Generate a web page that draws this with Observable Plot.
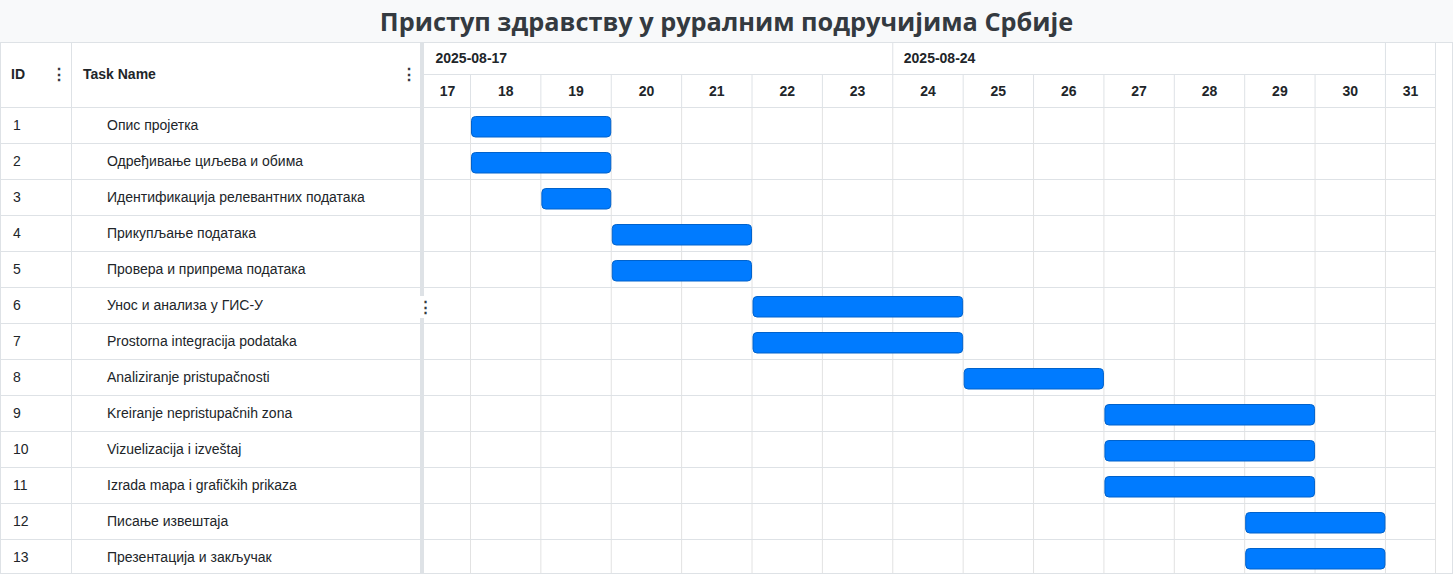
<!DOCTYPE html>
<html>
<head>
<meta charset="utf-8">
<script src="https://cdn.jsdelivr.net/npm/d3@7"></script>
<script src="https://cdn.jsdelivr.net/npm/@observablehq/plot@0.6"></script>
<style>
  html, body { margin: 0; padding: 0; background: #fff; }
  body { width: 1453px; font-family: "Liberation Sans", Arial, sans-serif; color: #212529; }
  #title { height: 42px; background: #f8f9fa; text-align: center; font-family: "Open Sans", sans-serif;
           font-weight: 700; font-size: 25.3px; line-height: 42px; color: #343a40; white-space: nowrap; }
  #wrap { position: relative; width: 1451px; height: 530px; border: 1px solid #dee2e6; display: flex; overflow: hidden; }
  #left { width: 419px; flex: none; }
  .hdr { height: 64px; border-bottom: 1px solid #dee2e6; display: flex; font-weight: 700; font-size: 14px; }
  .row { height: 35px; border-bottom: 1px solid #dee2e6; display: flex; font-size: 14px; }
  .c1 { width: 70px; flex: none; border-right: 1px solid #dee2e6; display: flex; align-items: center; position: relative; box-sizing: content-box; }
  .c2 { flex: 1; display: flex; align-items: center; position: relative; }
  .hdr .c1 { padding-left: 10px; width: 60px; padding-bottom: 2px; }
  .hdr .c2 { padding-left: 11px; padding-bottom: 2px; }
  .row .c1 { padding-left: 12px; width: 58px; padding-bottom: 2px; }
  .row .c2 { padding-left: 35px; padding-bottom: 2px; }
  .dots { position: absolute; font-weight: 700; font-size: 16px; color: #343a40; }
  .hdr .c1 .dots { left: 50px; }
  .hdr .c2 .dots { left: 329px; }
  #sep { width: 4px; flex: none; background: #dee2e6; position: relative; }
  #sepdots { position: absolute; left: -2px; top: 253px; width: 8px; height: 22px; background: #fff;
             font-weight: 700; font-size: 15px; line-height: 22px; text-align: center; color: #343a40; }
  #right { width: 1028px; flex: none; }
  #right svg { display: block; }
</style>
</head>
<body>
<div id="title">Приступ здравству у руралним подручијима Србије</div>
<div id="wrap">
  <div id="left"></div>
  <div id="sep"><div id="sepdots">⋮</div></div>
  <div id="right"></div>
</div>
<script>
// ---- data ----
const ids = [1, 2, 3, 4, 5, 6, 7, 8, 9, 10, 11, 12, 13];
const taskNames = [
  "Опис пројетка",
  "Одређивање циљева и обима",
  "Идентификација релевантних података",
  "Прикупљање података",
  "Провера и припрема података",
  "Унос и анализа у ГИС-У",
  "Prostorna integracija podataka",
  "Analiziranje pristupačnosti",
  "Kreiranje nepristupačnih zona",
  "Vizuelizacija i izveštaj",
  "Izrada mapa i grafičkih prikaza",
  "Писање извештаја",
  "Презентација и закључак"
];
const startDates = ["2025-08-18", "2025-08-18", "2025-08-19", "2025-08-20", "2025-08-20", "2025-08-22", "2025-08-22",
                    "2025-08-25", "2025-08-27", "2025-08-27", "2025-08-27", "2025-08-29", "2025-08-29"];
const endDates = ["2025-08-20", "2025-08-20", "2025-08-20", "2025-08-22", "2025-08-22", "2025-08-25", "2025-08-25",
                  "2025-08-27", "2025-08-30", "2025-08-30", "2025-08-30", "2025-08-31", "2025-08-31"];
const weekStarts = ["2025-08-17", "2025-08-24", "2025-08-31"];
const weekLabels = ["2025-08-17", "2025-08-24", ""];
const dayDates = ["2025-08-17", "2025-08-18", "2025-08-19", "2025-08-20", "2025-08-21", "2025-08-22", "2025-08-23",
                  "2025-08-24", "2025-08-25", "2025-08-26", "2025-08-27", "2025-08-28", "2025-08-29", "2025-08-30", "2025-08-31"];
const dayLabels = ["17", "18", "19", "20", "21", "22", "23", "24", "25", "26", "27", "28", "29", "30", "31"];
// visible window of the timeline (scrolled view)
const viewStart = "2025-08-17T08:19:00Z";
const viewEnd = "2025-08-31T17:04:00Z";

// ---- helpers ----
const D = (s) => new Date(s.length === 10 ? s + "T00:00:00Z" : s);
const DAY = 864e5;
const vS = D(viewStart), vE = D(viewEnd);
const clampT = (t) => new Date(Math.max(vS, Math.min(vE, t)));

const tasks = ids.map((id, i) => ({id, name: taskNames[i], row: i, start: D(startDates[i]), end: D(endDates[i])}));
const days = dayDates.map((d, i) => {
  const s = D(d), e = new Date(+s + DAY);
  const a = clampT(s), b = clampT(e);
  return {label: dayLabels[i], mid: new Date((+a + +b) / 2)};
});
const dayBounds = dayDates.slice(1).map(D).concat([vE]);
const weeks = weekStarts.map((w, i) => ({label: weekLabels[i], x: clampT(D(w))}));
const weekBounds = weekStarts.slice(1).map(D).concat([vE]);

const W = 1028, MR = 17;
const grid = "#dee2e6";
const xScale = {type: "utc", domain: [vS, vE], axis: null};
const style = {fontFamily: "Liberation Sans, Arial, sans-serif", fontSize: "14px", color: "#212529", background: "transparent"};

// ---- left table ----
const left = document.getElementById("left");
left.innerHTML = `<div class="hdr"><div class="c1">ID<span class="dots">⋮</span></div><div class="c2">Task Name<span class="dots">⋮</span></div></div>` +
  tasks.map(t => `<div class="row"><div class="c1">${t.id}</div><div class="c2">${t.name}</div></div>`).join("");

// ---- week header ----
const weekPlot = Plot.plot({
  width: W, height: 32, marginLeft: 0, marginRight: MR, marginTop: 0, marginBottom: 1,
  x: xScale, style,
  marks: [
    Plot.ruleX(weekBounds, {x: d => d, stroke: grid, strokeOpacity: 1}),
    Plot.frame({anchor: "bottom", stroke: grid}),
    Plot.text(weeks, {x: "x", text: "label", frameAnchor: "middle", textAnchor: "start", dx: 11, fontWeight: "bold", fill: "#212529"})
  ]
});
// ---- day header ----
const dayPlot = Plot.plot({
  width: W, height: 32, marginLeft: 0, marginRight: MR, marginTop: 0, marginBottom: 0,
  x: xScale, style,
  marks: [
    Plot.ruleX(dayBounds, {x: d => d, stroke: grid, strokeOpacity: 1}),
    Plot.text(days, {x: "mid", text: "label", frameAnchor: "middle", fontWeight: "bold", fill: "#212529"})
  ]
});
// ---- body ----
const rowEdges = d3.range(0, ids.length + 1);
const bodyPlot = Plot.plot({
  width: W, height: 468, marginLeft: 0, marginRight: MR, marginTop: 0, marginBottom: 0,
  x: xScale,
  y: {type: "linear", domain: [0, ids.length], range: [0, 468], axis: null},
  style,
  marks: [
    Plot.ruleX(dayBounds, {x: d => d, stroke: "#e2e2e2", strokeOpacity: 1}),
    Plot.ruleY(rowEdges, {y: d => d, stroke: grid, strokeOpacity: 1}),
    Plot.rect(tasks, {x1: "start", x2: "end", y1: "row", y2: d => d.row + 1,
      insetTop: 9.5, insetBottom: 6, insetLeft: 1.5, insetRight: 0,
      fill: "#007bff", stroke: "#0062cc", strokeWidth: 1, rx: 4})
  ]
});
const right = document.getElementById("right");
right.append(weekPlot, dayPlot, bodyPlot);
</script>
</body>
</html>
